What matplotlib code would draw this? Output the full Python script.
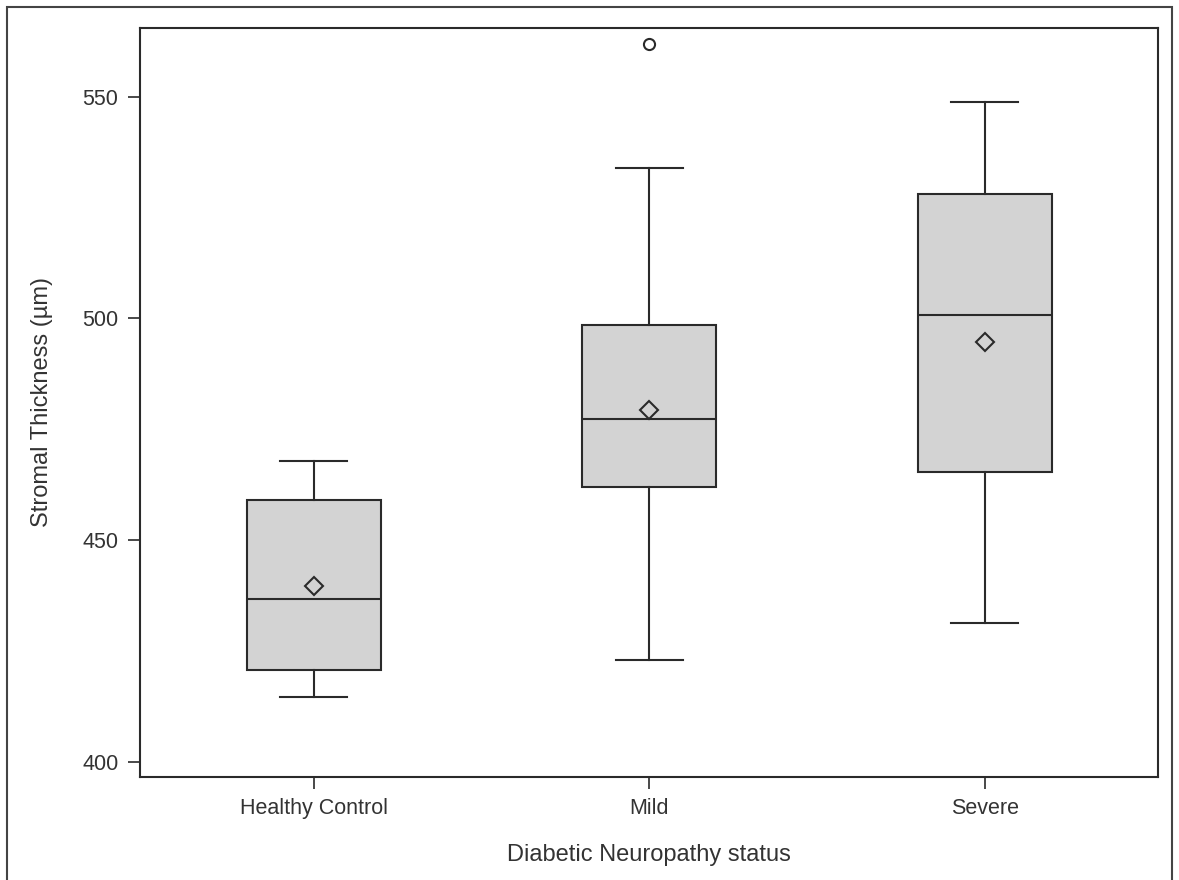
import matplotlib
matplotlib.use("Agg")
import matplotlib.pyplot as plt
from matplotlib.patches import Rectangle

# ---- data ----
categories = ["Healthy Control", "Mild", "Severe"]
whisker_low = [414.5, 422.9, 431.3]
q1 = [420.6, 462.0, 465.3]
median = [436.8, 477.3, 500.8]
q3 = [459.0, 498.5, 528.1]
whisker_high = [467.8, 533.9, 548.8]
means = [439.7, 479.3, 494.6]
outliers = [[], [562.0], []]
y_ticks = [400, 450, 500, 550]

plt.rcParams['font.family'] = ['Liberation Sans', 'DejaVu Sans']

DARK = '#2a2a2a'
TXT = '#333333'

fig = plt.figure(figsize=(11.79, 8.80), dpi=100)
ax = fig.add_axes([140/1179, 1 - 776.7/880, (1158 - 140)/1179, (776.7 - 28)/880])

stats = []
for i, c in enumerate(categories):
    stats.append(dict(label=c, med=median[i], q1=q1[i], q3=q3[i],
                      whislo=whisker_low[i], whishi=whisker_high[i],
                      mean=means[i], fliers=outliers[i]))

lw = 1.5
ax.bxp(stats, positions=range(len(categories)), widths=0.4,
       showmeans=True, showfliers=True, patch_artist=True,
       boxprops=dict(facecolor='#d3d3d3', edgecolor=DARK, linewidth=lw),
       medianprops=dict(color=DARK, linewidth=lw),
       whiskerprops=dict(color=DARK, linewidth=lw),
       capprops=dict(color=DARK, linewidth=lw),
       capwidths=0.2,
       meanprops=dict(marker='D', markersize=9, markerfacecolor='none',
                      markeredgecolor=DARK, markeredgewidth=1.5),
       flierprops=dict(marker='o', markersize=8, markerfacecolor='none',
                       markeredgecolor=DARK, markeredgewidth=1.5))

ax.set_xlim(-0.518, 2.517)
ax.set_ylim(396.6, 565.5)
ax.set_yticks(y_ticks)
ax.set_yticklabels([str(t) for t in y_ticks])
ax.set_xticks(range(len(categories)))
ax.set_xticklabels(categories)

for s in ax.spines.values():
    s.set_color(DARK)
    s.set_linewidth(1.5)

ax.tick_params(axis='both', length=8.5, width=1.2, color=DARK,
               labelsize=15.5, labelcolor=TXT, pad=7)

ax.set_xlabel('Diabetic Neuropathy status', fontsize=17, color=TXT)
ax.set_ylabel('Stromal Thickness (\u00b5m)', fontsize=17, color=TXT)
ax.xaxis.label.set_va('center')
ax.yaxis.label.set_va('center')
ax.xaxis.set_label_coords(0.5, (776.7 - 854.6) / 748.7)
ax.yaxis.set_label_coords((42.5 - 140) / 1018, 0.5)

# outer figure border
fig.patches.append(Rectangle((7/1179, -0.05), (1172 - 7)/1179, 1 - 7/880 + 0.05,
                             transform=fig.transFigure, fill=False,
                             edgecolor='#444444', linewidth=1.5))

fig.savefig('out.png', dpi=100)
